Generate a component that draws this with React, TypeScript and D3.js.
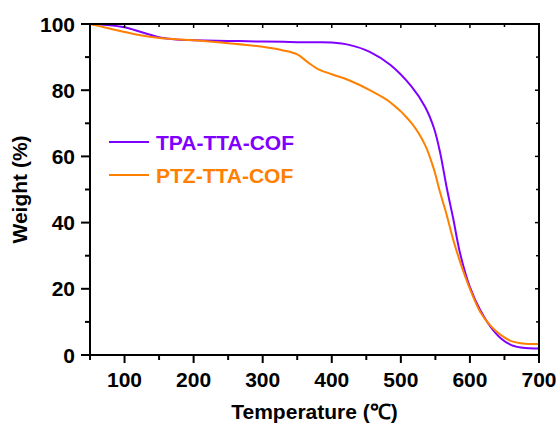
import React from 'react';
import * as d3 from 'd3';

const temps = [50, 75, 100, 125, 150, 175, 200, 250, 300, 330, 350, 365, 380, 400, 425, 455, 485, 515, 535, 548, 557, 566, 576, 586, 600, 615, 630, 645, 660, 680, 700];
const tpaWeight = [100, 99.7, 99, 97.5, 96, 95.3, 95.1, 94.9, 94.7, 94.6, 94.5, 94.5, 94.5, 94.4, 93.7, 91.6, 87.6, 81.2, 75, 68.5, 61, 51, 41, 30.5, 20.5, 13.5, 8.5, 5, 3, 2.1, 2];
const ptzWeight = [100, 98.8, 97.6, 96.5, 95.8, 95.4, 95.1, 94.2, 93.1, 92, 90.8, 88.5, 86.4, 84.8, 83, 80, 76.3, 70.2, 63.5, 56, 49, 42.6, 34.7, 28, 20, 13, 8.8, 6, 4.2, 3.4, 3.3];

const xMajor = [100, 200, 300, 400, 500, 600, 700];
const xMinor = [50, 150, 250, 350, 450, 550, 650];
const yMajor = [0, 20, 40, 60, 80, 100];
const yMinor = [10, 30, 50, 70, 90];

const series = [
  { name: 'TPA-TTA-COF', values: tpaWeight, color: '#8000ff' },
  { name: 'PTZ-TTA-COF', values: ptzWeight, color: '#ff8000' },
];

const W = 560;
const H = 427;
const margin = { top: 24, right: 21, bottom: 72, left: 90 };
const font = '"Liberation Sans", Arial, sans-serif';

const App = () => {
  const x = d3.scaleLinear().domain([50, 700]).range([margin.left, W - margin.right]);
  const y = d3.scaleLinear().domain([0, 100]).range([H - margin.bottom, margin.top]);
  const x0 = x(50);
  const x1 = x(700);
  const y0 = y(0);
  const y1 = y(100);

  const line = d3
    .line<number>()
    .x((_, i) => x(temps[i]))
    .y((d) => y(d))
    .curve(d3.curveCatmullRom.alpha(0.5));

  return (
    <svg width={W} height={H} style={{ position: 'absolute', left: 0, top: 0 }} fontFamily={font}>
      <rect width={W} height={H} fill="#fff" />

      {series.map((s) => (
        <path key={s.name} d={line(s.values) || ''} fill="none" stroke={s.color} strokeWidth={2} />
      ))}

      {/* frame */}
      <rect x={x0} y={y1} width={x1 - x0} height={y0 - y1} fill="none" stroke="#000" strokeWidth={2} />

      {/* bottom axis */}
      {xMajor.map((t) => (
        <g key={'xb' + t}>
          <line x1={x(t)} x2={x(t)} y1={y0} y2={y0 + 8} stroke="#000" strokeWidth={2} />
          <line x1={x(t)} x2={x(t)} y1={y1} y2={y1 + 4} stroke="#000" strokeWidth={1.5} />
          <text x={x(t)} y={y0 + 32} textAnchor="middle" fontSize={21} fontWeight="bold">{t}</text>
        </g>
      ))}
      {xMinor.map((t) => (
        <g key={'xm' + t}>
          <line x1={x(t)} x2={x(t)} y1={y0} y2={y0 + 5} stroke="#000" strokeWidth={2} />
          <line x1={x(t)} x2={x(t)} y1={y1} y2={y1 + 3} stroke="#000" strokeWidth={1.5} />
        </g>
      ))}

      {/* left axis */}
      {yMajor.map((t) => (
        <g key={'yl' + t}>
          <line x1={x0 - 9} x2={x0} y1={y(t)} y2={y(t)} stroke="#000" strokeWidth={2} />
          <line x1={x1 - 4} x2={x1} y1={y(t)} y2={y(t)} stroke="#000" strokeWidth={1.5} />
          <text x={x0 - 15} y={y(t) + 7.5} textAnchor="end" fontSize={21} fontWeight="bold">{t}</text>
        </g>
      ))}
      {yMinor.map((t) => (
        <g key={'ym' + t}>
          <line x1={x0 - 5} x2={x0} y1={y(t)} y2={y(t)} stroke="#000" strokeWidth={2} />
          <line x1={x1 - 3} x2={x1} y1={y(t)} y2={y(t)} stroke="#000" strokeWidth={1.5} />
        </g>
      ))}

      {/* axis titles */}
      <text x={(x0 + x1) / 2} y={H - 8} textAnchor="middle" fontSize={21} fontWeight="bold">
        Temperature (℃)
      </text>
      <text
        transform={`translate(27,${(y0 + y1) / 2}) rotate(-90)`}
        textAnchor="middle"
        fontSize={21}
        fontWeight="bold"
      >
        Weight (%)
      </text>

      {/* legend */}
      {series.map((s, i) => (
        <g key={'lg' + s.name} transform={`translate(0,${142 + i * 33})`}>
          <line x1={109} x2={149} y1={0} y2={0} stroke={s.color} strokeWidth={2} />
          <text x={156} y={7.5} fontSize={21} fontWeight="bold" fill={s.color}>{s.name}</text>
        </g>
      ))}
    </svg>
  );
};

export default App;
